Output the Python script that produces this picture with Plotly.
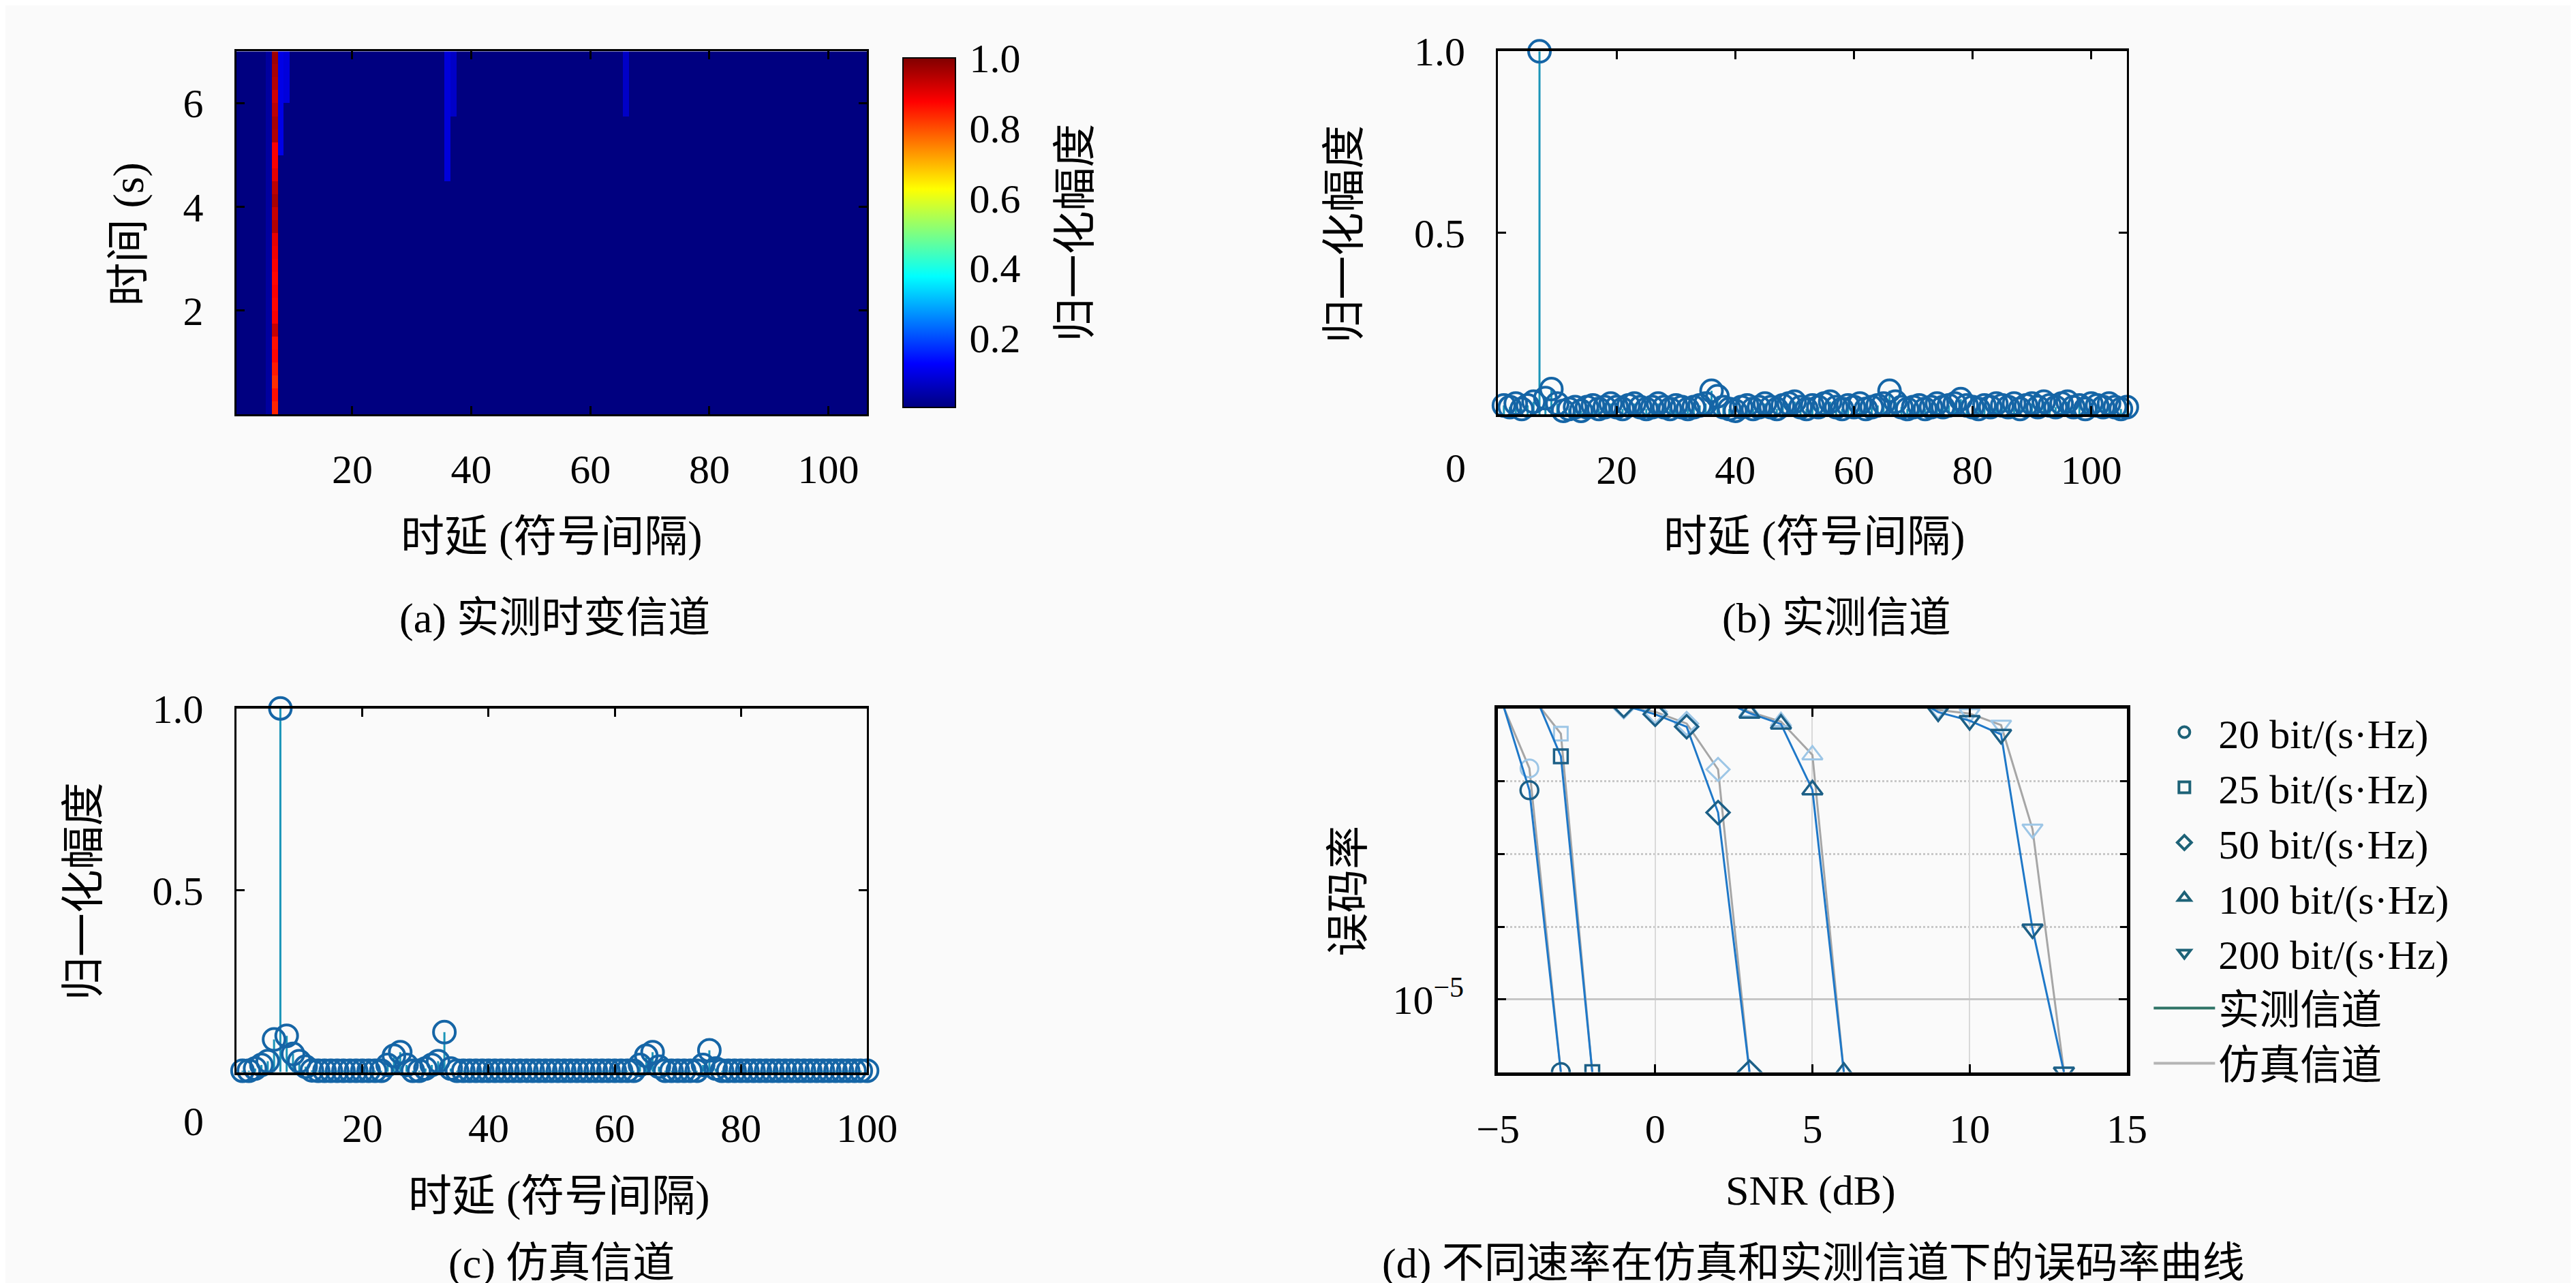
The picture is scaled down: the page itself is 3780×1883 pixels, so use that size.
import plotly.graph_objects as go

FONT = "Liberation Serif, Noto Sans CJK SC, serif"
BG = "#fafafa"

# (a) measured time-varying channel, delay 1..106, time 0..7 s in 0.25 s rows
DELAY_A = list(range(1, 107))
TIME_A = [0.125 + 0.25 * i for i in range(28)]
BACKGROUND_A = 0.0
MAIN_DELAY = 7
MAIN_LEVEL = [0.84, 0.86, 0.83, 0.85, 0.87, 0.86, 0.93, 0.88, 0.87, 0.88,
              0.87, 0.88, 0.89, 0.90, 0.95, 0.93, 0.96, 0.94, 0.90, 0.88,
              0.88, 0.95, 0.96, 0.94, 0.92, 0.95, 0.96, 0.97]
WEAK_DELAY = [6, 8, 9, 36, 37, 66]
WEAK_FROM_T = [0.0, 5.0, 6.0, 4.5, 5.75, 5.75]
WEAK_LEVEL = [0.03, 0.1, 0.09, 0.09, 0.07, 0.07]

# (b) measured channel
DELAY_B = list(range(1, 107))
AMP_B = [0.025, 0.02, 0.03, 0.015, 0.025, 0.035, 1.0, 0.045, 0.07, 0.03,
         0.01, 0.015, 0.02, 0.01, 0.02, 0.025, 0.015, 0.02, 0.03, 0.02,
         0.015, 0.025, 0.03, 0.02, 0.015, 0.02, 0.03, 0.02, 0.015, 0.025,
         0.02, 0.015, 0.02, 0.025, 0.03, 0.065, 0.05, 0.02, 0.015, 0.01,
         0.02, 0.025, 0.015, 0.02, 0.03, 0.02, 0.015, 0.025, 0.03, 0.035,
         0.02, 0.015, 0.025, 0.02, 0.03, 0.035, 0.02, 0.015, 0.025, 0.02,
         0.03, 0.015, 0.02, 0.025, 0.03, 0.065, 0.035, 0.02, 0.015, 0.02,
         0.025, 0.015, 0.02, 0.03, 0.02, 0.025, 0.03, 0.042, 0.025, 0.02,
         0.015, 0.025, 0.02, 0.03, 0.025, 0.02, 0.03, 0.015, 0.025, 0.03,
         0.02, 0.035, 0.025, 0.02, 0.03, 0.035, 0.02, 0.025, 0.015, 0.03,
         0.025, 0.02, 0.03, 0.02, 0.015, 0.02]

# (c) simulated channel
DELAY_C = list(range(1, 101))
AMP_C = [0.004, 0.004, 0.01, 0.02, 0.03, 0.09, 1.0, 0.10, 0.05, 0.03,
         0.015, 0.005, 0.004, 0.004, 0.004, 0.004, 0.004, 0.004, 0.004, 0.004,
         0.004, 0.004, 0.004, 0.02, 0.045, 0.055, 0.02, 0.004, 0.004, 0.01,
         0.02, 0.03, 0.11, 0.01, 0.004, 0.004, 0.004, 0.004, 0.004, 0.004,
         0.004, 0.004, 0.004, 0.004, 0.004, 0.004, 0.004, 0.004, 0.004, 0.004,
         0.004, 0.004, 0.004, 0.004, 0.004, 0.004, 0.004, 0.004, 0.004, 0.004,
         0.004, 0.004, 0.004, 0.02, 0.045, 0.055, 0.015, 0.004, 0.004, 0.004,
         0.004, 0.004, 0.004, 0.02, 0.06, 0.01, 0.004, 0.004, 0.004, 0.004,
         0.004, 0.004, 0.004, 0.004, 0.004, 0.004, 0.004, 0.004, 0.004, 0.004,
         0.004, 0.004, 0.004, 0.004, 0.004, 0.004, 0.004, 0.004, 0.004, 0.004]

# (d) BER vs SNR
RATES = ["20 bit/(s·Hz)", "25 bit/(s·Hz)", "50 bit/(s·Hz)", "100 bit/(s·Hz)", "200 bit/(s·Hz)"]
SYMBOLS = ["circle-open", "square-open", "diamond-open", "triangle-up-open", "triangle-down-open"]
MARKER_SIZE = [26, 20, 26, 26, 26]
SNR = [
    [-5, -4, -3],
    [-4, -3, -2],
    [-1, 0, 1, 2, 3],
    [2, 3, 4, 5, 6],
    [8, 9, 10, 11, 12, 13],
]
BER_MEAS = [
    [0.19, 7.5e-3, 1e-6],
    [0.23, 0.022, 1e-6],
    [0.11, 0.083, 0.056, 3.7e-3, 1e-6],
    [0.136, 0.086, 0.061, 7.6e-3, 1e-6],
    [0.16, 0.089, 0.068, 0.044, 9.3e-5, 1e-6],
]
BER_SIM = [
    [0.16, 0.015, 1e-6],
    [0.16, 0.045, 1e-6],
    [0.105, 0.09, 0.062, 0.0145, 1e-6],
    [0.13, 0.09, 0.066, 0.023, 1e-6],
    [0.16, 0.095, 0.085, 0.059, 2.2e-3, 1e-6],
]

MEAS_LINE = "#1f78c8"
MEAS_MARK = "#1c5f86"
SIM_LINE = "#a6a6a6"
SIM_MARK = "#9dc6e6"
STEM_MARK = "#1565a6"
STEM_LINE = "#1b95b8"

# build heatmap matrix from the lists above
z = []
for k, t in enumerate(TIME_A):
    row = []
    for d in DELAY_A:
        v = BACKGROUND_A
        for wd, wt, wl in zip(WEAK_DELAY, WEAK_FROM_T, WEAK_LEVEL):
            if d == wd and t >= wt:
                v = wl
        if d == MAIN_DELAY:
            v = MAIN_LEVEL[k]
        row.append(v)
    z.append(row)

jet = [[0, "#000080"], [0.125, "#0000ff"], [0.375, "#00ffff"],
       [0.625, "#ffff00"], [0.875, "#ff0000"], [1, "#800000"]]

fig = go.Figure()

fig.add_trace(go.Heatmap(
    x=DELAY_A, y=TIME_A, z=z, zmin=0, zmax=1, colorscale=jet,
    xaxis="x", yaxis="y",
    colorbar=dict(
        x=0.3442, xanchor="left", y=0.9809, yanchor="top",
        len=0.2878, lenmode="fraction", thickness=77, thicknessmode="pixels",
        outlinecolor="black", outlinewidth=2,
        tickvals=[0.2, 0.4, 0.6, 0.8, 1.0],
        ticktext=["0.2", "0.4", "0.6", "0.8", "1.0"],
        ticks="outside", ticklen=8, tickcolor="rgba(0,0,0,0)",
        tickfont=dict(family=FONT, size=60, color="black"),
    ),
))

for xa, ya, dx, amp in [("x2", "y2", DELAY_B, AMP_B), ("x3", "y3", DELAY_C, AMP_C)]:
    fig.add_trace(go.Scatter(
        x=dx, y=amp, mode="markers", xaxis=xa, yaxis=ya, cliponaxis=False,
        marker=dict(symbol="circle-open", size=32, color=STEM_MARK,
                    line=dict(width=4, color=STEM_MARK)),
        error_y=dict(type="data", symmetric=False, array=[0] * len(amp),
                     arrayminus=amp, width=0, thickness=3, color=STEM_LINE),
        showlegend=False,
    ))

for i in range(len(RATES)):
    fig.add_trace(go.Scatter(
        x=SNR[i], y=BER_SIM[i], mode="lines+markers", xaxis="x4", yaxis="y4",
        line=dict(color=SIM_LINE, width=3),
        marker=dict(symbol=SYMBOLS[i], size=MARKER_SIZE[i], color=SIM_MARK,
                    line=dict(width=3, color=SIM_MARK)),
        showlegend=False,
    ))
    fig.add_trace(go.Scatter(
        x=SNR[i], y=BER_MEAS[i], mode="lines+markers", xaxis="x4", yaxis="y4",
        line=dict(color=MEAS_LINE, width=3),
        marker=dict(symbol=SYMBOLS[i], size=MARKER_SIZE[i], color=MEAS_MARK,
                    line=dict(width=3.5, color=MEAS_MARK)),
        showlegend=False,
    ))

# legend entries
for i in range(len(RATES)):
    fig.add_trace(go.Scatter(
        x=[None], y=[None], mode="markers", xaxis="x4", yaxis="y4", name=RATES[i],
        marker=dict(symbol=SYMBOLS[i], size=16, color="#1d6277",
                    line=dict(width=4, color="#1d6277")),
    ))
fig.add_trace(go.Scatter(x=[None], y=[None], mode="lines", xaxis="x4", yaxis="y4",
                         name="实测信道", line=dict(color="#2f7366", width=4)))
fig.add_trace(go.Scatter(x=[None], y=[None], mode="lines", xaxis="x4", yaxis="y4",
                         name="仿真信道", line=dict(color="#b4b4b4", width=4)))

tick_font = dict(family=FONT, size=60, color="black")
common = dict(showline=True, linecolor="black", mirror="ticks", ticks="inside",
              ticklen=12, tickwidth=3, tickcolor="black", tickfont=tick_font,
              showgrid=False, zeroline=False)

XL = [0.0828, 0.3328]
XR = [0.5828, 0.8320]
YT = [0.6930, 0.9809]
YB = [0.1715, 0.4599]
XSO = 26
YSO = 33

fig.update_layout(
    width=3780, height=1883,
    margin=dict(l=0, r=0, t=0, b=0),
    paper_bgcolor=BG, plot_bgcolor=BG,
    font=dict(family=FONT, size=60, color="black"),
    xaxis=dict(domain=XL, anchor="y", range=[0.5, 106.5], tickvals=[20, 40, 60, 80, 100],
               linewidth=3, ticklabelstandoff=XSO, **common),
    yaxis=dict(domain=YT, anchor="x", range=[0, 7], tickvals=[2, 4, 6],
               linewidth=3, ticklabelstandoff=YSO, **common),
    xaxis2=dict(domain=XR, anchor="y2", range=[0, 106], tickvals=[20, 40, 60, 80, 100],
                linewidth=4, ticklabelstandoff=XSO, **common),
    yaxis2=dict(domain=YT, anchor="x2", range=[0, 1], tickvals=[0.5, 1.0],
                ticktext=["0.5", "1.0"], linewidth=3, ticklabelstandoff=YSO, **common),
    xaxis3=dict(domain=XL, anchor="y3", range=[0, 100], tickvals=[20, 40, 60, 80, 100],
                linewidth=4, ticklabelstandoff=XSO, **common),
    yaxis3=dict(domain=YB, anchor="x3", range=[0, 1], tickvals=[0.5, 1.0],
                ticktext=["0.5", "1.0"], linewidth=3, ticklabelstandoff=YSO, **common),
    xaxis4=dict(domain=XR, anchor="y4", range=[-5, 15], tickvals=[-5, 0, 5, 10, 15],
                linewidth=5, ticklabelstandoff=XSO,
                **{**common, "showgrid": True}, gridcolor="#d9d9d9", gridwidth=2),
    yaxis4=dict(domain=YB, anchor="x4", type="log", range=[-6, -1],
                tickvals=[1e-5], ticktext=["10<sup>−5</sup>"],
                linewidth=5, ticklabelstandoff=YSO,
                **{**common, "showgrid": True}, gridcolor="#c6c6c6", gridwidth=3,
                minor=dict(tickmode="array", tickvals=[1e-4, 1e-3, 1e-2],
                           showgrid=True, gridcolor="#c8c8c8", gridwidth=3,
                           griddash="dot", ticks="inside", ticklen=10,
                           tickwidth=3, tickcolor="black")),
    legend=dict(x=0.8413, y=0.4657, xanchor="left", yanchor="top",
                bgcolor="rgba(0,0,0,0)", font=dict(family=FONT, size=60, color="black"),
                itemwidth=90, tracegroupgap=0),
)

ann = [
    # (a)
    ("时延 (符号间隔)", 0.2079, 0.5964, 0, 64),
    ("时间 (s)", 0.0402, 0.8359, -90, 64),
    ("(a) 实测时变信道", 0.2090, 0.5316, 0, 62),
    ("归一化幅度", 0.4153, 0.8370, -90, 64),
    # (b)
    ("归一化幅度", 0.5220, 0.8359, -90, 64),
    ("时延 (符号间隔)", 0.7082, 0.5964, 0, 64),
    ("(b) 实测信道", 0.7169, 0.5316, 0, 62),
    ("0", 0.5659, 0.6506, 0, 60),
    # (c)
    ("归一化幅度", 0.0222, 0.3149, -90, 64),
    ("时延 (符号间隔)", 0.2108, 0.0733, 0, 64),
    ("(c) 仿真信道", 0.2116, 0.0196, 0, 62),
    ("0", 0.0659, 0.1322, 0, 60),
    # (d)
    ("误码率", 0.5235, 0.3149, -90, 64),
    ("SNR (dB)", 0.7068, 0.0775, 0, 62),
    ("(d) 不同速率在仿真和实测信道下的误码率曲线", 0.7077, 0.0196, 0, 62),
]
for text, ax, ay, ang, fs in ann:
    fig.add_annotation(text=text, x=ax, y=ay, xref="paper", yref="paper",
                       xanchor="center", yanchor="middle", showarrow=False,
                       textangle=ang, font=dict(family=FONT, size=fs, color="black"))

fig.write_html("out.html")
